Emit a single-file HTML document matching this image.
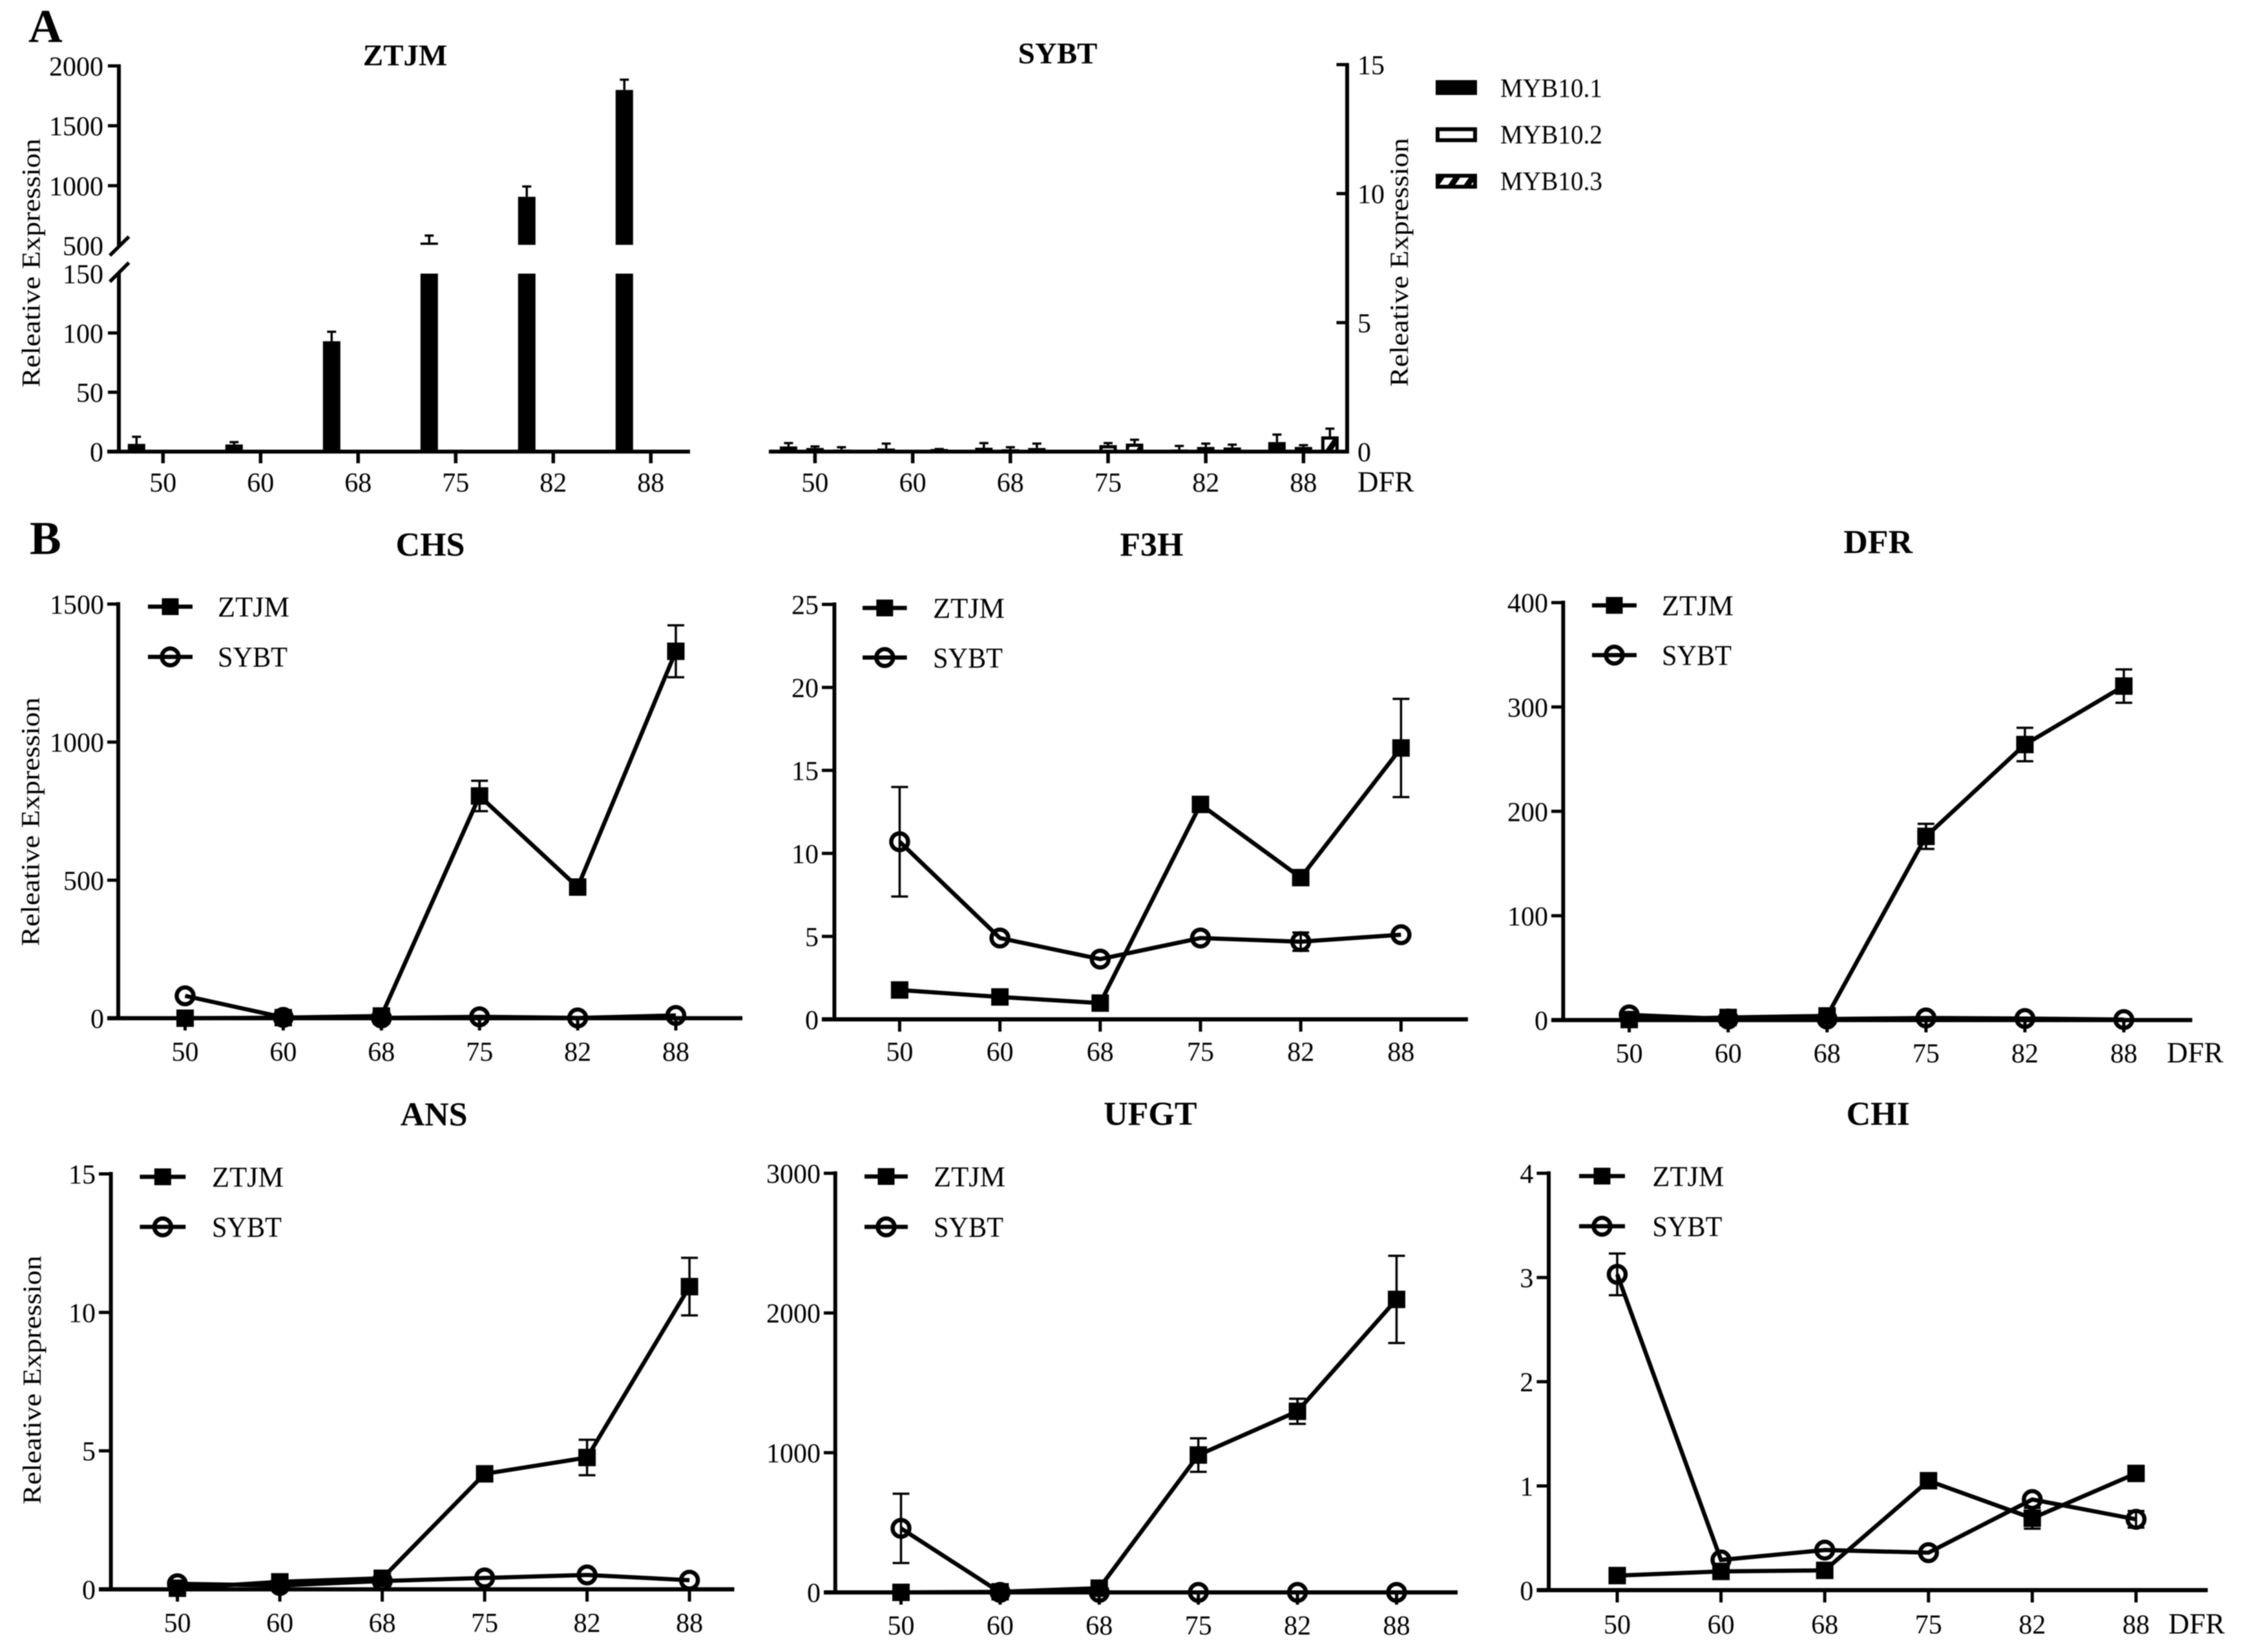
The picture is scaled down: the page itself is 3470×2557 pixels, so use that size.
<!DOCTYPE html>
<html lang="en">
<head>
<meta charset="utf-8">
<title>Relative expression of MYB10 and anthocyanin genes</title>
<style>
html,body{margin:0;padding:0;background:#fff;}
svg{display:block;font-family:"Liberation Serif","Times New Roman",serif;filter:blur(0.7px);}
</style>
</head>
<body>
<svg id="figure" xmlns="http://www.w3.org/2000/svg" width="3470" height="2557" viewBox="0 0 3470 2557">
  <defs>
    <pattern id="hatch" patternUnits="userSpaceOnUse" width="20" height="20" patternTransform="rotate(35)">
      <rect width="20" height="20" fill="#fff"></rect>
      <rect width="9" height="20" fill="#000"></rect>
    </pattern>
  </defs>
  <rect width="3470" height="2557" fill="#fff"></rect>
</svg>
<script>
// ---------- shared categories ----------
const categories = ['50', '60', '68', '75', '82', '88'];

// ---------- panel A data ----------
const barSeriesNames = ['MYB10.1', 'MYB10.2', 'MYB10.3'];
const ztjmUpperTicks = [500, 1000, 1500, 2000];
const ztjmLowerTicks = [0, 50, 100, 150];
const ztjmMyb101 = [6.5, 6, 93, 525, 907, 1799];
const ztjmMyb101Err = [6, 2, 8, 58, 86, 86];
const ztjmMyb102 = [0, 0, 0, 0, 0, 0];
const ztjmMyb102Err = [0, 0, 0, 0, 0, 0];
const ztjmMyb103 = [0, 0, 0, 0, 0, 0];
const ztjmMyb103Err = [0, 0, 0, 0, 0, 0];

const sybtTicks = [0, 5, 10, 15];
const sybtMyb101 = [0.2, 0.12, 0.15, 0, 0.08, 0.37];
const sybtMyb101Err = [0.13, 0.19, 0.18, 0, 0.14, 0.29];
const sybtMyb102 = [0.14, 0, 0.09, 0.25, 0.18, 0.18];
const sybtMyb102Err = [0.06, 0, 0.08, 0.08, 0.13, 0.07];
const sybtMyb103 = [0.08, 0.1, 0.14, 0.31, 0.16, 0.59];
const sybtMyb103Err = [0.09, 0, 0.17, 0.15, 0.11, 0.3];

// ---------- panel B data ----------
const chsTicks = [0, 500, 1000, 1500];
const chsZtjm = [0, 2, 8, 805, 475, 1329];
const chsZtjmErr = [0, 0, 0, 55, 25, 94];
const chsSybt = [81, 3, 1, 5, 1, 10];
const chsSybtErr = [0, 0, 0, 0, 0, 0];

const f3hTicks = [0, 5, 10, 15, 20, 25];
const f3hZtjm = [1.77, 1.35, 0.98, 12.95, 8.54, 16.35];
const f3hZtjmErr = [0, 0, 0, 0, 0.4, 2.96];
const f3hSybt = [10.7, 4.9, 3.63, 4.9, 4.68, 5.1];
const f3hSybtErr = [3.3, 0, 0, 0, 0.55, 0];

const dfrTicks = [0, 100, 200, 300, 400];
const dfrZtjm = [0.5, 2.5, 4, 176, 264, 320];
const dfrZtjmErr = [0, 0, 0, 12, 16, 16];
const dfrSybt = [5, 1, 1, 2, 1.5, 0.5];
const dfrSybtErr = [0, 0, 0, 0, 0, 0];

const ansTicks = [0, 5, 10, 15];
const ansZtjm = [0.04, 0.27, 0.4, 4.17, 4.76, 10.93];
const ansZtjmErr = [0, 0, 0, 0, 0.64, 1.04];
const ansSybt = [0.2, 0.14, 0.3, 0.41, 0.52, 0.33];
const ansSybtErr = [0, 0, 0, 0, 0, 0];

const ufgtTicks = [0, 1000, 2000, 3000];
const ufgtZtjm = [0, 4, 30, 983, 1296, 2097];
const ufgtZtjmErr = [0, 0, 0, 120, 90, 312];
const ufgtSybt = [458, 0, 0, 0, 0, 0];
const ufgtSybtErr = [248, 0, 0, 0, 0, 0];

const chiTicks = [0, 1, 2, 3, 4];
const chiZtjm = [0.14, 0.18, 0.19, 1.05, 0.69, 1.12];
const chiZtjmErr = [0, 0, 0, 0, 0.1, 0];
const chiSybt = [3.03, 0.29, 0.385, 0.36, 0.87, 0.68];
const chiSybtErr = [0.2, 0, 0, 0, 0, 0.08];

// ---------- drawing helpers ----------
const NS = 'http://www.w3.org/2000/svg';
const root = document.getElementById('figure');

function group(parent, name) {
  const el = document.createElementNS(NS, 'g');
  
  
  parent.appendChild(el);
  return el;
}
function seg(parent, x1, y1, x2, y2, w, name) {
  const el = document.createElementNS(NS, 'line');
  
  
  el.setAttribute('x1', x1);
  el.setAttribute('y1', y1);
  el.setAttribute('x2', x2);
  el.setAttribute('y2', y2);
  el.setAttribute('stroke', '#000');
  el.setAttribute('stroke-width', w);
  parent.appendChild(el);
  return el;
}
function box(parent, x, y, w, h, fill, stroke, name) {
  const el = document.createElementNS(NS, 'rect');
  
  
  el.setAttribute('x', x);
  el.setAttribute('y', y);
  el.setAttribute('width', w);
  el.setAttribute('height', h);
  el.setAttribute('fill', fill);
  if (stroke) {
    el.setAttribute('stroke', '#000');
    el.setAttribute('stroke-width', stroke);
  }
  parent.appendChild(el);
  return el;
}
function ring(parent, cx, cy, name) {
  const el = document.createElementNS(NS, 'circle');
  
  
  el.setAttribute('cx', cx);
  el.setAttribute('cy', cy);
  el.setAttribute('r', 13);
  el.setAttribute('fill', 'none');
  el.setAttribute('stroke', '#000');
  el.setAttribute('stroke-width', 6.5);
  parent.appendChild(el);
  return el;
}
function label(parent, str, x, y, size, anchor, bold, name) {
  const el = document.createElementNS(NS, 'text');
  
  
  el.setAttribute('x', x);
  el.setAttribute('y', y);
  el.setAttribute('font-size', size);
  el.setAttribute('text-anchor', anchor);
  el.setAttribute('fill', '#000');
  if (bold) el.setAttribute('font-weight', 'bold');
  el.textContent = str;
  parent.appendChild(el);
  return el;
}
function yTitle(parent, x, cy) {
  const el = label(parent, 'Releative Expression', 0, 0, 40, 'middle', false, 'y-axis-title');
  el.setAttribute('transform', 'translate(' + x + ',' + cy + ') rotate(-90)');
  el.setAttribute('textLength', 385);
  el.setAttribute('lengthAdjust', 'spacingAndGlyphs');
  return el;
}

// ---------- bar panels (A) ----------
function drawBarPanel(p) {
  const g = group(root, p.key + '-panel');
  const xOf = i => p.x0 + i * p.dx;
  // marks
  p.series.forEach((s, k) => {
    const off = (k - 1) * 41;
    const fill = k === 0 ? '#000' : (k === 1 ? '#fff' : 'url(#hatch)');
    s.values.forEach((v, i) => {
      const cx = xOf(i) + off;
      const top = v + s.errs[i];
      if (top > 0) {
        const ex = cx;
        const yTop = p.yOf(top);
        const yVal = p.yOf(v);
        seg(g, ex, yVal, ex, yTop, 3.5, p.key + '-error-stem');
        seg(g, ex - 7, yTop, ex + 7, yTop, 3.5, p.key + '-error-cap');
      }
      if (v > 0) {
        p.segments(v).forEach(r => {
          const inset = k === 0 ? 0 : 2.5;
          box(g, cx - 13.5 + inset, r[0] + inset, 27 - 2 * inset, Math.max(r[1] - r[0] - inset, 1), fill, k === 0 ? 0 : 5, p.key + '-bar-' + barSeriesNames[k].toLowerCase().replace('.', '-') + '-' + categories[i]);
        });
      }
    });
  });
  // x axis
  seg(g, p.xStart, p.y0, p.xEnd, p.y0, 6, p.key + '-x-axis');
  categories.forEach((c, i) => {
    seg(g, xOf(i), p.y0, xOf(i), p.y0 + 18, 5.5, p.key + '-x-tick');
    label(g, c, xOf(i), 761, 42, 'middle', false, p.key + '-x-label');
  });
  p.axis(g);
  label(g, p.title, p.titleX, p.titleY, 47, 'middle', true, p.key + '-title');
}

const A_Y0 = 699;
const ztjmLower = v => A_Y0 - v * (A_Y0 - 423.5) / 150;
const ztjmUpper = v => 380 - (v - 500) * (380 - 102) / 1500;

drawBarPanel({
  key: 'ztjm', title: 'ZTJM', titleX: 627, titleY: 101,
  x0: 252.3, dx: 151, y0: A_Y0, xStart: 166, xEnd: 1068,
  yOf: v => v <= 150 ? ztjmLower(v) : ztjmUpper(Math.max(v, 500)),
  segments: v => v <= 150 ? [[ztjmLower(v), A_Y0]] : [[ztjmUpper(Math.max(v, 500)), 379], [423.5, A_Y0]],
  series: [
    { values: ztjmMyb101, errs: ztjmMyb101Err },
    { values: ztjmMyb102, errs: ztjmMyb102Err },
    { values: ztjmMyb103, errs: ztjmMyb103Err }
  ],
  axis: g => {
    seg(g, 184, 99.5, 184, 382, 6, 'ztjm-y-axis-upper');
    seg(g, 184, 422, 184, A_Y0, 6, 'ztjm-y-axis-lower');
    seg(g, 170, 395.4, 199.5, 366.3, 5.5, 'axis-break-upper');
    seg(g, 170, 436, 199.5, 406.6, 5.5, 'axis-break-lower');
    ztjmUpperTicks.forEach(t => {
      if (t > 500) seg(g, 167, ztjmUpper(t), 184, ztjmUpper(t), 5, 'ztjm-y-tick');
      label(g, String(t), 160, ztjmUpper(t) + 15, 42, 'end', false, 'ztjm-y-label');
    });
    ztjmLowerTicks.forEach(t => {
      if (t < 150) seg(g, 167, ztjmLower(t), 184, ztjmLower(t), 5, 'ztjm-y-tick');
      label(g, String(t), 160, ztjmLower(t) + 15, 42, 'end', false, 'ztjm-y-label');
    });
    yTitle(g, 61.5, 407);
  }
});

const sybtY = v => A_Y0 - v * (A_Y0 - 100) / 15;
drawBarPanel({
  key: 'sybt', title: 'SYBT', titleX: 1637, titleY: 98,
  x0: 1261.4, dx: 151.2, y0: A_Y0, xStart: 1190, xEnd: 2088,
  yOf: sybtY,
  segments: v => [[sybtY(v), A_Y0]],
  series: [
    { values: sybtMyb101, errs: sybtMyb101Err },
    { values: sybtMyb102, errs: sybtMyb102Err },
    { values: sybtMyb103, errs: sybtMyb103Err }
  ],
  axis: g => {
    seg(g, 2085, 97.5, 2085, A_Y0, 6, 'sybt-y-axis');
    sybtTicks.forEach(t => {
      seg(g, 2068.5, sybtY(t), 2085, sybtY(t), 5, 'sybt-y-tick');
      label(g, String(t), 2101, sybtY(t) + 15, 42, 'start', false, 'sybt-y-label');
    });
    yTitle(g, 2179, 406);
    label(g, 'DFR', 2101, 761, 45, 'start', false, 'x-axis-unit-label');
  }
});

// Panel A legend
const barLegend = group(root, 'bar-legend');
barSeriesNames.forEach((n, k) => {
  const top = [124, 197, 269][k];
  const base = [150, 222, 294][k];
  const entry = group(barLegend, 'legend-entry-' + n.toLowerCase().replace('.', '-'));
  const fill = k === 0 ? '#000' : (k === 1 ? '#fff' : 'url(#hatch)');
  box(entry, 2225, top + 3, 58, 17, fill, 6, 'legend-swatch');
  const t = label(entry, n, 2322, base, 41, 'start', false, 'legend-label');
  t.setAttribute('textLength', 158);
  t.setAttribute('lengthAdjust', 'spacingAndGlyphs');
});

// ---------- line panels (B) ----------
function drawLinePanel(p) {
  const g = group(root, p.key + '-panel');
  const xOf = i => p.x0 + i * p.dx;
  const yOf = v => p.y0 - v * (p.y0 - p.yTop) / p.max;

  // axes
  seg(g, p.axisX, p.yTop - 3, p.axisX, p.y0, 6, p.key + '-y-axis');
  seg(g, p.tickLeft, p.y0, p.xEnd, p.y0, 6.5, p.key + '-x-axis');
  p.ticks.forEach(t => {
    seg(g, p.tickLeft, yOf(t), p.axisX, yOf(t), 5, p.key + '-y-tick');
    label(g, String(t), p.tickLeft - 5, yOf(t) + 15, 42, 'end', false, p.key + '-y-label');
  });
  categories.forEach((c, i) => {
    seg(g, xOf(i), p.y0, xOf(i), p.y0 + 19, 5, p.key + '-x-tick');
    label(g, c, xOf(i), p.labelY, 42, 'middle', false, p.key + '-x-label');
  });

  // series
  p.series.forEach((s, k) => {
    const sg = group(g, p.key + '-' + s.name.toLowerCase() + '-series');
    s.values.forEach((v, i) => {
      const e = s.errs[i];
      if (e > 0) {
        const x = xOf(i);
        seg(sg, x, yOf(v + e), x, yOf(v - e), 3.5, 'error-stem');
        seg(sg, x - 13, yOf(v + e), x + 13, yOf(v + e), 3.5, 'error-cap');
        seg(sg, x - 13, yOf(v - e), x + 13, yOf(v - e), 3.5, 'error-cap');
      }
    });
    const line = document.createElementNS(NS, 'polyline');
    
    
    line.setAttribute('points', s.values.map((v, i) => xOf(i) + ',' + yOf(v)).join(' '));
    line.setAttribute('fill', 'none');
    line.setAttribute('stroke', '#000');
    line.setAttribute('stroke-width', 6.5);
    sg.appendChild(line);
    s.values.forEach((v, i) => {
      if (k === 0) box(sg, xOf(i) - 13.5, yOf(v) - 13.5, 27, 27, '#000', 0, 'point-square-' + categories[i]);
      else ring(sg, xOf(i), yOf(v), 'point-circle-' + categories[i]);
    });
  });

  // legend
  const lg = group(g, p.key + '-legend');
  p.series.forEach((s, k) => {
    const entry = group(lg, 'legend-entry-' + s.name.toLowerCase());
    const ly = p.legendY[k];
    seg(entry, p.legendX[0], ly, p.legendX[1], ly, 6.5, 'legend-line');
    const mid = (p.legendX[0] + p.legendX[1]) / 2;
    if (k === 0) box(entry, mid - 13, ly - 13, 26, 26, '#000', 0, 'legend-square');
    else ring(entry, mid, ly, 'legend-circle');
    const t = label(entry, s.name, p.legendTextX, ly + 15, 44, 'start', false, 'legend-label');
    t.setAttribute('textLength', k === 0 ? 111 : 108);
    t.setAttribute('lengthAdjust', 'spacingAndGlyphs');
  });

  label(g, p.title, p.titleX, p.titleY, 52, 'middle', true, p.key + '-title');
  if (p.yTitle) yTitle(g, p.yTitle[0], p.yTitle[1]);
  if (p.unitX) label(g, 'DFR', p.unitX, p.labelY, 45, 'start', false, 'x-axis-unit-label');
}

drawLinePanel({
  key: 'chs', title: 'CHS', titleX: 666, titleY: 860, max: 1500, ticks: chsTicks,
  axisX: 183, tickLeft: 166, yTop: 935, y0: 1576, x0: 286.5, dx: 151.9, xEnd: 1149, labelY: 1642,
  legendX: [229, 298], legendY: [939, 1016.7], legendTextX: 337, yTitle: [60.6, 1272],
  series: [{ name: 'ZTJM', values: chsZtjm, errs: chsZtjmErr }, { name: 'SYBT', values: chsSybt, errs: chsSybtErr }]
});
drawLinePanel({
  key: 'f3h', title: 'F3H', titleX: 1782.4, titleY: 860, max: 25, ticks: f3hTicks,
  axisX: 1291.4, tickLeft: 1272, yTop: 935.5, y0: 1577.8, x0: 1392.4, dx: 155.2, xEnd: 2272, labelY: 1642,
  legendX: [1335, 1403.6], legendY: [941, 1017.8], legendTextX: 1444,
  series: [{ name: 'ZTJM', values: f3hZtjm, errs: f3hZtjmErr }, { name: 'SYBT', values: f3hSybt, errs: f3hSybtErr }]
});
drawLinePanel({
  key: 'dfr', title: 'DFR', titleX: 2906.7, titleY: 856, max: 400, ticks: dfrTicks,
  axisX: 2419.4, tickLeft: 2401, yTop: 932.7, y0: 1578.9, x0: 2521.6, dx: 153.1, xEnd: 3393, labelY: 1644.7,
  legendX: [2464, 2533], legendY: [937, 1014], legendTextX: 2572, unitX: 3353.6,
  series: [{ name: 'ZTJM', values: dfrZtjm, errs: dfrZtjmErr }, { name: 'SYBT', values: dfrSybt, errs: dfrSybtErr }]
});
drawLinePanel({
  key: 'ans', title: 'ANS', titleX: 671.6, titleY: 1742, max: 15, ticks: ansTicks,
  axisX: 171.6, tickLeft: 153, yTop: 1817, y0: 2460, x0: 274.6, dx: 158.5, xEnd: 1136.5, labelY: 2526,
  legendX: [216.4, 287.3], legendY: [1821.5, 1899], legendTextX: 328, yTitle: [62.8, 2136],
  series: [{ name: 'ZTJM', values: ansZtjm, errs: ansZtjmErr }, { name: 'SYBT', values: ansSybt, errs: ansSybtErr }]
});
drawLinePanel({
  key: 'ufgt', title: 'UFGT', titleX: 1780.3, titleY: 1741, max: 3000, ticks: ufgtTicks,
  axisX: 1292.8, tickLeft: 1275, yTop: 1816, y0: 2464.7, x0: 1394.5, dx: 153.4, xEnd: 2256, labelY: 2530,
  legendX: [1338, 1405], legendY: [1821, 1899], legendTextX: 1445,
  series: [{ name: 'ZTJM', values: ufgtZtjm, errs: ufgtZtjmErr }, { name: 'SYBT', values: ufgtSybt, errs: ufgtSybtErr }]
});
drawLinePanel({
  key: 'chi', title: 'CHI', titleX: 2906.7, titleY: 1741, max: 4, ticks: chiTicks,
  axisX: 2397, tickLeft: 2378.4, yTop: 1816, y0: 2461.3, x0: 2503, dx: 160.6, xEnd: 3417, labelY: 2528.5,
  legendX: [2444, 2515], legendY: [1820.4, 1898], legendTextX: 2557.4, unitX: 3356,
  series: [{ name: 'ZTJM', values: chiZtjm, errs: chiZtjmErr }, { name: 'SYBT', values: chiSybt, errs: chiSybtErr }]
});

// panel letters
label(root, 'A', 44, 65, 73, 'start', true, 'panel-letter-a');
label(root, 'B', 46, 857.6, 73, 'start', true, 'panel-letter-b');
</script>
</body>
</html>
